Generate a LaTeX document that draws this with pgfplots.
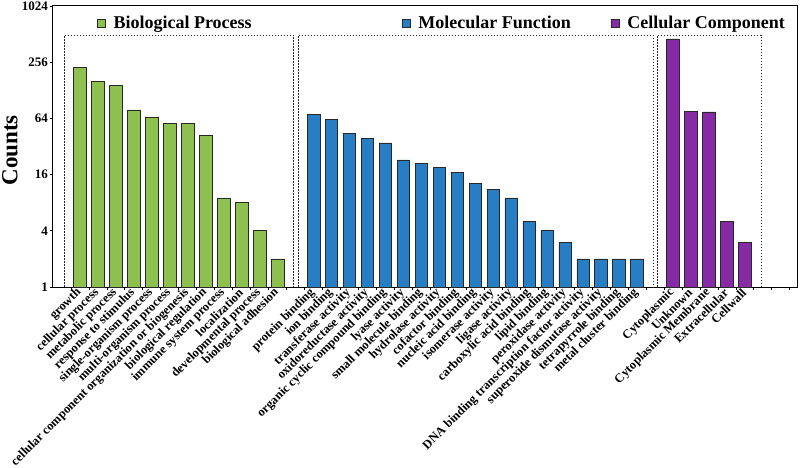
\documentclass[border=0pt]{standalone}
\usepackage{pgfplots}
\pgfplotsset{compat=1.18}
\usepackage{fontspec}
\setmainfont{Liberation Serif}
\definecolor{bpgreen}{RGB}{141,192,78}
\definecolor{mfblue}{RGB}{40,126,196}
\definecolor{ccpurple}{RGB}{135,42,165}
\definecolor{edge}{RGB}{40,40,40}
\begin{document}
\begin{tikzpicture}
\begin{axis}[name=ax,
  scale only axis, width=744pt, height=281pt,
  xmin=-1.5, xmax=39.9,
  ymode=log, log basis y=2, ymin=1, ymax=1024,
  ytick={1,4,16,64,256,1024}, yticklabels={1,4,16,64,256,1024},
  minor ytick={},
  xtick={0,1,2,3,4,5,6,7,8,9,10,11,13,14,15,16,17,18,19,20,21,22,23,24,25,26,27,28,29,30,31,33,34,35,36,37},
  xticklabels={growth,cellular process,metabolic process,response to stimulus,single-organism process,multi-organism process,cellular component organization or biogenesis,biological regulation,immune system process,localization,developmental process,biological adhesion,
  protein binding,ion binding,transferase activity,oxidoreductase activity,organic cyclic compound binding,lyase activity,small molecule binding,hydrolase activity,cofactor binding,nucleic acid binding,isomerase activity,ligase activity,carboxylic acid binding,lipid binding,peroxidase activity,DNA binding transcription factor activity,superoxide dismutase activity,tetrapyrrole binding,metal cluster binding,
  Cytoplasmic,Unknown,Cytoplasmic Membrane,Extracellular,Cellwall},
  minor xtick={-0.5,0.5,...,39.5},
  major x tick style={draw=none},
  tick align=outside,
  major tick length=3pt, minor tick length=3pt,
  tick style={black, line width=0.8pt},
  xtick pos=bottom, ytick pos=left,
  axis line style={black, line width=1pt},
  xticklabel style={rotate=45, anchor=east, inner sep=1pt, font=\fontsize{12.5}{13}\selectfont\bfseries},
  yticklabel style={font=\fontsize{13}{14}\selectfont\bfseries, inner sep=2pt},
  /pgf/number format/assume math mode=true,
  ylabel={Counts},
  every axis y label/.style={at={(axis description cs:-0.058,0.486)}, rotate=90, anchor=center, font=\fontsize{23}{24}\selectfont\bfseries},
  ybar, bar width=0.7, bar shift=0pt,
  legend style={draw=none, fill=none, inner sep=0pt, outer sep=0pt,
    at={(rel axis cs:0.0591,0.9377)}, anchor=west,
    nodes={inner sep=0pt, anchor=west},
    font=\fontsize{18}{19}\selectfont\bfseries},
  legend columns=3,
  mylegend/.style={legend image code/.code={\draw[##1, draw=edge, line width=0.6pt] (0pt,-4pt) rectangle (8pt,4pt);}},
]
\addplot[fill=bpgreen, draw=edge, line width=0.7pt, mylegend] coordinates {
(0,226) (1,158) (2,145) (3,79) (4,65) (5,56) (6,56) (7,42) (8,9) (9,8) (10,4) (11,2)};
\addlegendentry{\hspace*{8pt}Biological Process\hspace*{150pt}}
\addplot[fill=mfblue, draw=edge, line width=0.7pt, mylegend] coordinates {
(13,71) (14,63) (15,44) (16,39) (17,35) (18,23) (19,21) (20,19) (21,17) (22,13) (23,11) (24,9) (25,5) (26,4) (27,3) (28,2) (29,2) (30,2) (31,2)};
\addlegendentry{\hspace*{8pt}Molecular Function\hspace*{40pt}}
\addplot[fill=ccpurple, draw=edge, line width=0.7pt, mylegend] coordinates {
(33,454) (34,76) (35,75) (36,5) (37,3)};
\addlegendentry{\hspace*{8pt}Cellular Component}
\draw[black!85, line width=0.9pt, dash pattern=on 1.6pt off 1.4pt] (axis cs:-0.86,1) |- (axis cs:11.89,500) -- (axis cs:11.89,1);
\draw[black!85, line width=0.9pt, dash pattern=on 1.6pt off 1.4pt] (axis cs:12.17,1) |- (axis cs:31.89,500) -- (axis cs:31.89,1);
\draw[black!85, line width=0.9pt, dash pattern=on 1.6pt off 1.4pt] (axis cs:32.15,1) |- (axis cs:37.9,500) -- (axis cs:37.9,1);
\end{axis}
\pgfresetboundingbox
\path[use as bounding box] ([shift={(-53pt,-181pt)}]ax.south west) rectangle ([shift={(3pt,6pt)}]ax.north east);
\end{tikzpicture}
\end{document}
